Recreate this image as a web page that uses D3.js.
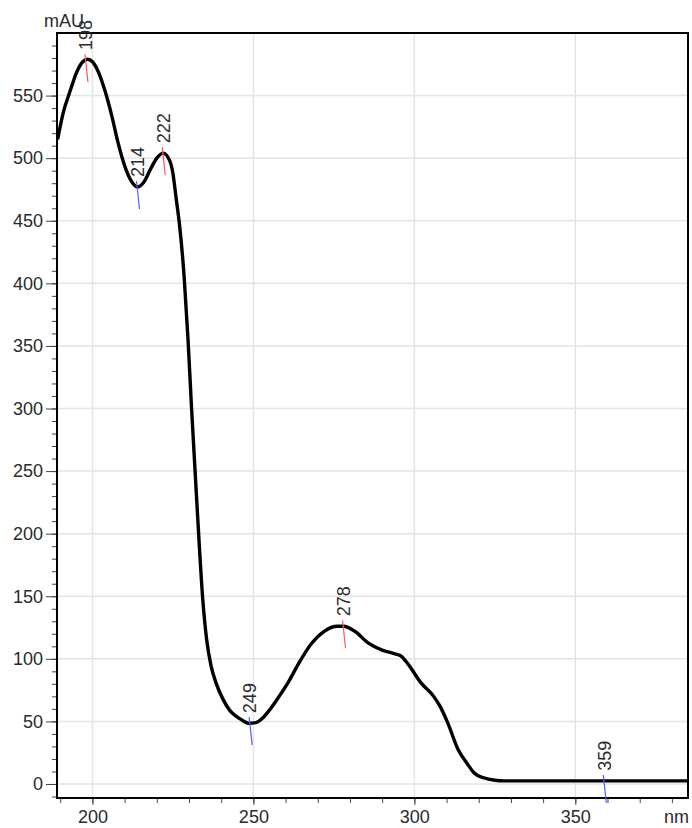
<!DOCTYPE html>
<html lang="en">
<head>
    <meta charset="UTF-8">
    <title>UV Spectrum</title>
    <style>
        body {
            margin: 0;
            background-color: white;
            font-family: "Liberation Sans", Arial, sans-serif;
        }
        svg text {
            fill: #2a2a2a;
        }
    </style>
    <script src="https://d3js.org/d3.v7.min.js"></script>
</head>
<body>
    <svg id="chart" width="692" height="828"></svg>

    <script>
        // spectrum (nm, mAU)
        const wavelength = [189.2, 191, 193, 195, 197, 198.5, 200, 202, 204, 206, 208, 210, 212, 214, 216, 218, 220, 222,
            224, 225, 226, 227, 228.5, 229.7, 230.8, 232, 233.1, 234.2, 235.5, 236.8, 238.5, 240.5, 242.6, 244.7, 246.5,
            248.5, 250.8, 253, 255, 258, 261, 264, 268, 272, 276, 278, 281.5, 285.5, 290, 294, 296, 298, 302, 306, 308,
            310.5, 313.5, 316.5, 318.5, 321.5, 325, 328, 385];
        const absorbance = [515, 537, 553, 568, 577, 579, 577, 568, 553, 534, 512, 494, 482, 477, 481, 491, 500, 504,
            498, 488, 468, 448, 405, 355, 300, 245, 195, 150, 115, 95, 80, 68, 59, 54, 51,
            48.5, 49, 53, 59, 70, 82, 96, 112, 122, 126, 126, 122, 113, 107, 104, 102, 96, 81, 70, 62,
            48, 28, 16, 9, 5, 3, 2.5, 2.5];

        // labelled extrema
        const markNm = [198, 214, 222, 249, 278, 359];
        const markType = ["max", "min", "max", "min", "max", "min"];

        const xMajor = [200, 250, 300, 350];
        const yMajor = [0, 50, 100, 150, 200, 250, 300, 350, 400, 450, 500, 550];

        const svg = d3.select("#chart");
        const plot = { left: 57, right: 688, top: 33, bottom: 798 };

        const x = d3.scaleLinear().domain([189.0, 385.0]).range([plot.left, plot.right]);
        const y = d3.scaleLinear().domain([-11.2, 600]).range([plot.bottom, plot.top]);

        const data = wavelength.map((w, i) => ({ w: w, a: absorbance[i] }));
        const valueAt = nm => {
            const i = d3.bisector(d => d.w).left(data, nm);
            if (i <= 0) return data[0].a;
            if (i >= data.length) return data[data.length - 1].a;
            const p = data[i - 1], q = data[i];
            return p.a + (q.a - p.a) * (nm - p.w) / (q.w - p.w);
        };

        // grid
        const grid = svg.append("g").attr("stroke", "#e4e4e4").attr("stroke-width", 1.5);
        grid.selectAll(".gx").data(xMajor).enter().append("line")
            .attr("x1", d => x(d)).attr("x2", d => x(d))
            .attr("y1", plot.top).attr("y2", plot.bottom);
        grid.selectAll(".gy").data(yMajor).enter().append("line")
            .attr("x1", plot.left).attr("x2", plot.right)
            .attr("y1", d => y(d)).attr("y2", d => y(d));

        // axes
        const fontSize = "18px";
        const xMinor = d3.range(190, 385, 10);
        const yMinor = d3.range(-10, 600, 10);

        svg.append("g").attr("transform", `translate(0,${plot.bottom})`)
            .call(d3.axisBottom(x).tickValues(xMinor).tickSize(5).tickFormat(""))
            .call(g => g.select(".domain").remove())
            .selectAll("line").attr("stroke", "#444");

        svg.append("g").attr("transform", `translate(0,${plot.bottom})`)
            .call(d3.axisBottom(x).tickValues(xMajor).tickSize(7).tickPadding(5).tickFormat(d3.format("d")))
            .call(g => g.select(".domain").remove())
            .call(g => g.selectAll("text").attr("font-size", fontSize).attr("font-family", "Liberation Sans, Arial, sans-serif"))
            .selectAll("line").attr("stroke", "#444");

        svg.append("g").attr("transform", `translate(${plot.left},0)`)
            .call(d3.axisLeft(y).tickValues(yMinor).tickSize(5).tickFormat(""))
            .call(g => g.select(".domain").remove())
            .selectAll("line").attr("stroke", "#444");

        svg.append("g").attr("transform", `translate(${plot.left},0)`)
            .call(d3.axisLeft(y).tickValues(yMajor).tickSize(11).tickPadding(3).tickFormat(d3.format("d")))
            .call(g => g.select(".domain").remove())
            .call(g => g.selectAll("text").attr("font-size", fontSize).attr("font-family", "Liberation Sans, Arial, sans-serif"))
            .selectAll("line").attr("stroke", "#444");

        // frame
        svg.append("rect")
            .attr("x", plot.left).attr("y", plot.top)
            .attr("width", plot.right - plot.left).attr("height", plot.bottom - plot.top)
            .attr("fill", "none").attr("stroke", "#000").attr("stroke-width", 2);

        // units
        svg.append("text").attr("x", 44).attr("y", 27)
            .attr("font-size", fontSize).text("mAU");
        svg.append("text").attr("x", plot.right + 1).attr("y", 823)
            .attr("text-anchor", "end").attr("font-size", fontSize).text("nm");

        // spectrum
        svg.append("clipPath").attr("id", "plotClip")
            .append("rect").attr("x", plot.left).attr("y", plot.top)
            .attr("width", plot.right - plot.left).attr("height", plot.bottom - plot.top);

        const line = d3.line()
            .x(d => x(d.w))
            .y(d => y(d.a))
            .curve(d3.curveMonotoneX);

        svg.append("path")
            .datum(data)
            .attr("clip-path", "url(#plotClip)")
            .attr("fill", "none")
            .attr("stroke", "#000")
            .attr("stroke-width", 3.4)
            .attr("stroke-linejoin", "round")
            .attr("d", line);

        // extremum markers and labels
        const marks = markNm.map((nm, i) => ({ nm: nm, type: markType[i], a: valueAt(nm) }));

        svg.append("g").selectAll("line").data(marks).enter().append("line")
            .attr("x1", d => x(d.nm) - 1)
            .attr("x2", d => x(d.nm) + 2)
            .attr("y1", d => y(d.a) - 6)
            .attr("y2", d => y(d.a) + 22)
            .attr("stroke", d => d.type === "max" ? "#ff5a5a" : "#5a5aff")
            .attr("stroke-width", 1.2);

        svg.append("g").selectAll("text").data(marks).enter().append("text")
            .attr("transform", d => `translate(${x(d.nm)},${y(d.a) - 10}) rotate(-90)`)
            .attr("dy", "0.35em")
            .attr("font-size", fontSize)
            .text(d => d.nm);
    </script>
</body>
</html>
